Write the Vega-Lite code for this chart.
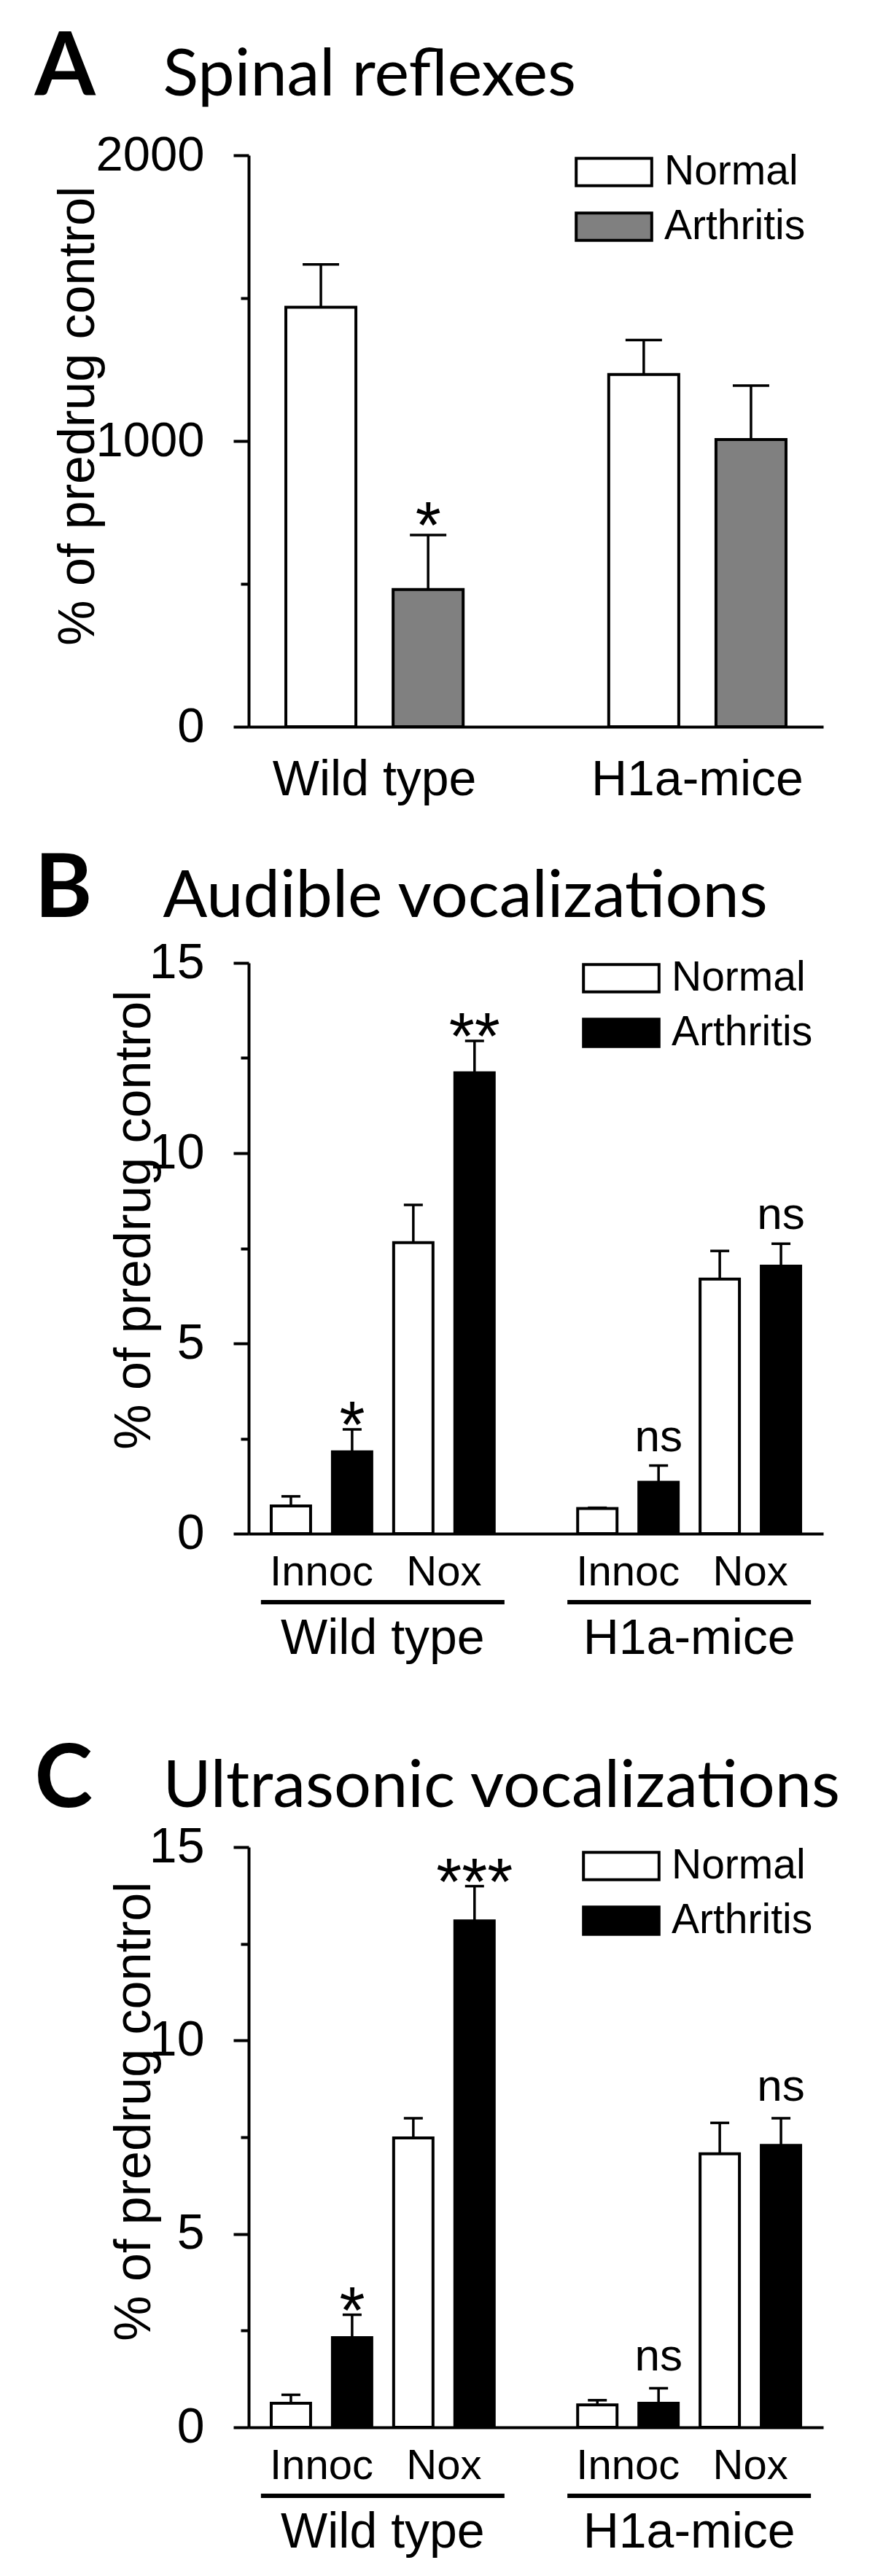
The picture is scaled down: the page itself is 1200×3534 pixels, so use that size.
{
  "$schema": "https://vega.github.io/schema/vega-lite/v6.json",
  "background": "white",
  "padding": {"left": 47, "top": 34, "right": 5, "bottom": 5},
  "config": {"view": {"stroke": null}, "axis": {"grid": false, "labelLimit": 0}, "legend": {"labelLimit": 0}, "font": "Liberation Sans"},
  "bounds": "flush",
  "spacing": 324,
  "resolve": {"scale": {"x": "independent", "y": "independent", "xOffset": "independent", "fill": "independent"}, "legend": {"fill": "independent"}},
  "datasets": {
    "a": [
      {"group": "Wild type", "status": "Normal", "value": 1468, "upper": 1618},
      {"group": "Wild type", "status": "Arthritis", "value": 480, "upper": 671, "sig": "*"},
      {"group": "H1a-mice", "status": "Normal", "value": 1233, "upper": 1353},
      {"group": "H1a-mice", "status": "Arthritis", "value": 1005, "upper": 1194}
    ],
    "b": [
      {"group": "Wild type", "bar": "Innoc-Normal", "status": "Normal", "value": 0.73, "upper": 0.98},
      {"group": "Wild type", "bar": "Innoc-Arthritis", "status": "Arthritis", "value": 2.15, "upper": 2.74, "sig": "*"},
      {"group": "Wild type", "bar": "Nox-Normal", "status": "Normal", "value": 7.65, "upper": 8.64},
      {"group": "Wild type", "bar": "Nox-Arthritis", "status": "Arthritis", "value": 12.11, "upper": 12.95, "sig": "**"},
      {"group": "H1a-mice", "bar": "Innoc-Normal", "status": "Normal", "value": 0.66, "upper": 0.68},
      {"group": "H1a-mice", "bar": "Innoc-Arthritis", "status": "Arthritis", "value": 1.35, "upper": 1.79, "sig": "ns"},
      {"group": "H1a-mice", "bar": "Nox-Normal", "status": "Normal", "value": 6.69, "upper": 7.43},
      {"group": "H1a-mice", "bar": "Nox-Arthritis", "status": "Arthritis", "value": 7.03, "upper": 7.62, "sig": "ns"}
    ],
    "c": [
      {"group": "Wild type", "bar": "Innoc-Normal", "status": "Normal", "value": 0.62, "upper": 0.84},
      {"group": "Wild type", "bar": "Innoc-Arthritis", "status": "Arthritis", "value": 2.32, "upper": 2.91, "sig": "*"},
      {"group": "Wild type", "bar": "Nox-Normal", "status": "Normal", "value": 7.48, "upper": 7.99},
      {"group": "Wild type", "bar": "Nox-Arthritis", "status": "Arthritis", "value": 13.09, "upper": 13.99, "sig": "***"},
      {"group": "H1a-mice", "bar": "Innoc-Normal", "status": "Normal", "value": 0.58, "upper": 0.70},
      {"group": "H1a-mice", "bar": "Innoc-Arthritis", "status": "Arthritis", "value": 0.62, "upper": 1.01, "sig": "ns"},
      {"group": "H1a-mice", "bar": "Nox-Normal", "status": "Normal", "value": 7.07, "upper": 7.87},
      {"group": "H1a-mice", "bar": "Nox-Arthritis", "status": "Arthritis", "value": 7.29, "upper": 7.99, "sig": "ns"}
    ],
    "sub": [
      {"group": "Wild type", "bar": "Innoc-Normal", "label": "Innoc"},
      {"group": "Wild type", "bar": "Nox-Normal", "label": "Nox"},
      {"group": "H1a-mice", "bar": "Innoc-Normal", "label": "Innoc"},
      {"group": "H1a-mice", "bar": "Nox-Normal", "label": "Nox"}
    ],
    "under": [{"group": "Wild type"}, {"group": "H1a-mice"}]
  },
  "vconcat": [
    {
      "width": 788, "height": 784,
      "data": {"name": "a"},
      "resolve": {"axis": {"x": "independent", "y": "independent"}},
      "layer": [
        {
          "mark": {"type": "bar", "stroke": "black", "strokeWidth": 4},
          "encoding": {
            "x": {"field": "group", "type": "nominal", "scale": {"domain": ["Wild type", "H1a-mice"], "paddingInner": 0.3356, "paddingOuter": 0.0576},
              "axis": {"orient": "bottom", "title": null, "ticks": false, "domainWidth": 4, "domainColor": "black", "labelAngle": 0, "labelFontSize": 68, "labelPadding": 93, "labelBaseline": "alphabetic", "labelColor": "black", "labelFont": "Liberation Sans"}},
            "xOffset": {"field": "status", "type": "nominal", "scale": {"domain": ["Normal", "Arthritis"], "paddingInner": 0.347, "paddingOuter": 0.1735}},
            "y": {"field": "value", "type": "quantitative", "scale": {"domain": [0, 2000], "nice": false},
              "axis": {"orient": "left", "values": [0, 1000, 2000], "format": "d", "tickSize": 21, "tickWidth": 4, "tickColor": "black", "domainWidth": 4, "domainColor": "black", "labelFontSize": 67, "labelPadding": 40, "labelColor": "black", "labelFont": "Liberation Sans", "title": "% of predrug control", "titleFont": "Liberation Sans", "titleFontSize": 70, "titleFontWeight": "normal", "titleColor": "black", "titleAngle": -90, "titleX": -213, "titleY": 357, "titleAlign": "center", "titleBaseline": "alphabetic"}},
            "fill": {"field": "status", "type": "nominal", "scale": {"domain": ["Normal", "Arthritis"], "range": ["white", "#808080"]},
              "legend": {"orient": "none", "legendX": 462, "legendY": -16, "title": null, "symbolType": "M-1.4,-0.51H1.4V0.51H-1.4Z", "symbolSize": 5476, "symbolStrokeColor": "black", "symbolStrokeWidth": 4, "symbolOpacity": 1, "labelFontSize": 57, "labelFont": "Liberation Sans", "labelColor": "black", "labelOffset": 30, "rowPadding": 8, "padding": 0, "labelBaseline": "middle", "labelLimit": 0}}
          }
        },
        {
          "mark": {"type": "rule", "strokeWidth": 3.5, "color": "black"},
          "encoding": {
            "x": {"field": "group", "type": "nominal", "axis": {"orient": "top", "title": "Spinal reflexes", "titleFont": "Lato", "titleFontSize": 90, "titleFontWeight": "normal", "titleColor": "black", "titleX": -118, "titleY": -83, "titleAlign": "left", "titleBaseline": "alphabetic", "labels": false, "ticks": false, "domain": false}},
            "xOffset": {"field": "status", "type": "nominal"},
            "y": {"field": "value", "type": "quantitative", "axis": {"orient": "left", "values": [500, 1500], "tickSize": 11, "tickWidth": 4, "tickColor": "black", "domain": false, "labels": false, "title": null}},
            "y2": {"field": "upper"}
          }
        },
        {
          "mark": {"type": "tick", "thickness": 3.5, "size": 50, "color": "black", "opacity": 1},
          "encoding": {
            "x": {"field": "group", "type": "nominal", "axis": {"orient": "top", "title": "A", "titleFont": "Lato", "titleFontSize": 120, "titleFontWeight": "bold", "titleColor": "black", "titleX": -294, "titleY": -83, "titleAlign": "left", "titleBaseline": "alphabetic", "labels": false, "ticks": false, "domain": false}},
            "xOffset": {"field": "status", "type": "nominal"},
            "y": {"field": "upper", "type": "quantitative", "axis": null}
          }
        },
        {
          "transform": [{"filter": "datum.sig && datum.sig != 'ns'"}],
          "mark": {"type": "text", "fontSize": 90, "baseline": "alphabetic", "dy": 18, "font": "Liberation Sans", "color": "black"},
          "encoding": {
            "x": {"field": "group", "type": "nominal", "axis": null},
            "xOffset": {"field": "status", "type": "nominal"},
            "y": {"field": "upper", "type": "quantitative", "axis": null},
            "text": {"field": "sig"}
          }
        }
      ]
    },
    {
      "width": 788, "height": 783,
      "data": {"name": "b"},
      "resolve": {"axis": {"x": "independent", "y": "independent"}},
      "layer": [
        {
          "mark": {"type": "bar", "stroke": "black", "strokeWidth": 4},
          "encoding": {
            "x": {"field": "group", "type": "nominal", "scale": {"domain": ["Wild type", "H1a-mice"], "paddingInner": 0.201, "paddingOuter": 0.038},
              "axis": {"orient": "bottom", "title": null, "ticks": false, "domainWidth": 4, "domainColor": "black", "labelAngle": 0, "labelFontSize": 68, "labelPadding": 164, "labelBaseline": "alphabetic", "labelColor": "black", "labelFont": "Liberation Sans"}},
            "xOffset": {"field": "bar", "type": "nominal", "scale": {"domain": ["Innoc-Normal", "Innoc-Arthritis", "Nox-Normal", "Nox-Arthritis"], "paddingInner": 0.357, "paddingOuter": 0.1786}},
            "y": {"field": "value", "type": "quantitative", "scale": {"domain": [0, 15], "nice": false},
              "axis": {"orient": "left", "values": [0, 5, 10, 15], "tickSize": 21, "tickWidth": 4, "tickColor": "black", "domainWidth": 4, "domainColor": "black", "labelFontSize": 68, "labelPadding": 40, "labelColor": "black", "labelFont": "Liberation Sans", "title": "% of predrug control", "titleFont": "Liberation Sans", "titleFontSize": 70, "titleFontWeight": "normal", "titleColor": "black", "titleAngle": -90, "titleX": -136, "titleY": 352, "titleAlign": "center", "titleBaseline": "alphabetic"}},
            "fill": {"field": "status", "type": "nominal", "scale": {"domain": ["Normal", "Arthritis"], "range": ["white", "black"]},
              "legend": {"orient": "none", "legendX": 472, "legendY": -18, "title": null, "symbolType": "M-1.4,-0.51H1.4V0.51H-1.4Z", "symbolSize": 5476, "symbolStrokeColor": "black", "symbolStrokeWidth": 4, "symbolOpacity": 1, "labelFontSize": 57, "labelFont": "Liberation Sans", "labelColor": "black", "labelOffset": 30, "rowPadding": 8, "padding": 0, "labelBaseline": "middle", "labelLimit": 0}}
          }
        },
        {
          "mark": {"type": "rule", "strokeWidth": 3.5, "color": "black"},
          "encoding": {
            "x": {"field": "group", "type": "nominal", "axis": {"orient": "top", "title": "Audible vocalizations", "titleFont": "Lato", "titleFontSize": 90, "titleFontWeight": "normal", "titleColor": "black", "titleX": -118, "titleY": -64, "titleAlign": "left", "titleBaseline": "alphabetic", "labels": false, "ticks": false, "domain": false}},
            "xOffset": {"field": "bar", "type": "nominal"},
            "y": {"field": "value", "type": "quantitative", "axis": {"orient": "left", "values": [2.5, 7.5, 12.5], "tickSize": 11, "tickWidth": 4, "tickColor": "black", "domain": false, "labels": false, "title": null}},
            "y2": {"field": "upper"}
          }
        },
        {
          "mark": {"type": "tick", "thickness": 3.5, "size": 26, "color": "black", "opacity": 1},
          "encoding": {
            "x": {"field": "group", "type": "nominal", "axis": {"orient": "top", "title": "B", "titleFont": "Lato", "titleFontSize": 120, "titleFontWeight": "bold", "titleColor": "black", "titleX": -294, "titleY": -64, "titleAlign": "left", "titleBaseline": "alphabetic", "labels": false, "ticks": false, "domain": false}},
            "xOffset": {"field": "bar", "type": "nominal"},
            "y": {"field": "upper", "type": "quantitative", "axis": null}
          }
        },
        {
          "transform": [{"filter": "datum.sig && datum.sig != 'ns'"}],
          "mark": {"type": "text", "fontSize": 90, "baseline": "alphabetic", "dy": 25, "font": "Liberation Sans", "color": "black"},
          "encoding": {
            "x": {"field": "group", "type": "nominal", "axis": null},
            "xOffset": {"field": "bar", "type": "nominal"},
            "y": {"field": "upper", "type": "quantitative", "axis": null},
            "text": {"field": "sig"}
          }
        },
        {
          "transform": [{"filter": "datum.sig == 'ns'"}],
          "mark": {"type": "text", "fontSize": 62, "baseline": "alphabetic", "dy": -20, "font": "Liberation Sans", "color": "black"},
          "encoding": {
            "x": {"field": "group", "type": "nominal", "axis": null},
            "xOffset": {"field": "bar", "type": "nominal"},
            "y": {"field": "upper", "type": "quantitative", "axis": null},
            "text": {"field": "sig"}
          }
        },
        {
          "data": {"name": "sub"},
          "mark": {"type": "text", "fontSize": 58, "baseline": "alphabetic", "dx": 42, "dy": 71, "font": "Liberation Sans", "color": "black"},
          "encoding": {
            "x": {"field": "group", "type": "nominal", "axis": null},
            "xOffset": {"field": "bar", "type": "nominal"},
            "y": {"datum": 0, "type": "quantitative", "axis": null},
            "text": {"field": "label"}
          }
        },
        {
          "data": {"name": "under"},
          "mark": {"type": "tick", "size": 334, "thickness": 6, "yOffset": 94, "color": "black", "opacity": 1},
          "encoding": {
            "x": {"field": "group", "type": "nominal", "axis": null},
            "y": {"datum": 0, "type": "quantitative", "axis": null}
          }
        }
      ]
    },
    {
      "width": 788, "height": 902,
      "data": {"name": "c"},
      "resolve": {"axis": {"x": "independent", "y": "independent"}},
      "layer": [
        {
          "mark": {"type": "bar", "stroke": "black", "strokeWidth": 4},
          "encoding": {
            "x": {"field": "group", "type": "nominal", "scale": {"domain": ["Wild type", "H1a-mice"], "paddingInner": 0.201, "paddingOuter": 0.038},
              "axis": {"orient": "bottom", "title": null, "ticks": false, "domainWidth": 4, "domainColor": "black", "labelAngle": 0, "labelFontSize": 68, "labelPadding": 164, "labelBaseline": "alphabetic", "labelColor": "black", "labelFont": "Liberation Sans"}},
            "xOffset": {"field": "bar", "type": "nominal", "scale": {"domain": ["Innoc-Normal", "Innoc-Arthritis", "Nox-Normal", "Nox-Arthritis"], "paddingInner": 0.357, "paddingOuter": 0.1786}},
            "y": {"field": "value", "type": "quantitative", "scale": {"domain": [0, 15], "nice": false, "range": [902, 106]},
              "axis": {"orient": "left", "values": [0, 5, 10, 15], "tickSize": 21, "tickWidth": 4, "tickColor": "black", "domainWidth": 4, "domainColor": "black", "labelFontSize": 68, "labelPadding": 40, "labelColor": "black", "labelFont": "Liberation Sans", "title": "% of predrug control", "titleFont": "Liberation Sans", "titleFontSize": 70, "titleFontWeight": "normal", "titleColor": "black", "titleAngle": -90, "titleX": -136, "titleY": 468, "titleAlign": "center", "titleBaseline": "alphabetic"}},
            "fill": {"field": "status", "type": "nominal", "scale": {"domain": ["Normal", "Arthritis"], "range": ["white", "black"]},
              "legend": {"orient": "none", "legendX": 472, "legendY": 93, "title": null, "symbolType": "M-1.4,-0.51H1.4V0.51H-1.4Z", "symbolSize": 5476, "symbolStrokeColor": "black", "symbolStrokeWidth": 4, "symbolOpacity": 1, "labelFontSize": 57, "labelFont": "Liberation Sans", "labelColor": "black", "labelOffset": 30, "rowPadding": 8, "padding": 0, "labelBaseline": "middle", "labelLimit": 0}}
          }
        },
        {
          "mark": {"type": "rule", "strokeWidth": 3.5, "color": "black"},
          "encoding": {
            "x": {"field": "group", "type": "nominal", "axis": {"orient": "top", "title": "Ultrasonic vocalizations", "titleFont": "Lato", "titleFontSize": 90, "titleFontWeight": "normal", "titleColor": "black", "titleX": -118, "titleY": 50, "titleAlign": "left", "titleBaseline": "alphabetic", "labels": false, "ticks": false, "domain": false}},
            "xOffset": {"field": "bar", "type": "nominal"},
            "y": {"field": "value", "type": "quantitative", "axis": {"orient": "left", "values": [2.5, 7.5, 12.5], "tickSize": 11, "tickWidth": 4, "tickColor": "black", "domain": false, "labels": false, "title": null}},
            "y2": {"field": "upper"}
          }
        },
        {
          "mark": {"type": "tick", "thickness": 3.5, "size": 26, "color": "black", "opacity": 1},
          "encoding": {
            "x": {"field": "group", "type": "nominal", "axis": {"orient": "top", "title": "C", "titleFont": "Lato", "titleFontSize": 120, "titleFontWeight": "bold", "titleColor": "black", "titleX": -294, "titleY": 50, "titleAlign": "left", "titleBaseline": "alphabetic", "labels": false, "ticks": false, "domain": false}},
            "xOffset": {"field": "bar", "type": "nominal"},
            "y": {"field": "upper", "type": "quantitative", "axis": null}
          }
        },
        {
          "transform": [{"filter": "datum.sig && datum.sig != 'ns'"}],
          "mark": {"type": "text", "fontSize": 90, "baseline": "alphabetic", "dy": 25, "font": "Liberation Sans", "color": "black"},
          "encoding": {
            "x": {"field": "group", "type": "nominal", "axis": null},
            "xOffset": {"field": "bar", "type": "nominal"},
            "y": {"field": "upper", "type": "quantitative", "axis": null},
            "text": {"field": "sig"}
          }
        },
        {
          "transform": [{"filter": "datum.sig == 'ns'"}],
          "mark": {"type": "text", "fontSize": 62, "baseline": "alphabetic", "dy": -24, "font": "Liberation Sans", "color": "black"},
          "encoding": {
            "x": {"field": "group", "type": "nominal", "axis": null},
            "xOffset": {"field": "bar", "type": "nominal"},
            "y": {"field": "upper", "type": "quantitative", "axis": null},
            "text": {"field": "sig"}
          }
        },
        {
          "data": {"name": "sub"},
          "mark": {"type": "text", "fontSize": 58, "baseline": "alphabetic", "dx": 42, "dy": 71, "font": "Liberation Sans", "color": "black"},
          "encoding": {
            "x": {"field": "group", "type": "nominal", "axis": null},
            "xOffset": {"field": "bar", "type": "nominal"},
            "y": {"datum": 0, "type": "quantitative", "axis": null},
            "text": {"field": "label"}
          }
        },
        {
          "data": {"name": "under"},
          "mark": {"type": "tick", "size": 334, "thickness": 6, "yOffset": 94, "color": "black", "opacity": 1},
          "encoding": {
            "x": {"field": "group", "type": "nominal", "axis": null},
            "y": {"datum": 0, "type": "quantitative", "axis": null}
          }
        }
      ]
    }
  ]
}
